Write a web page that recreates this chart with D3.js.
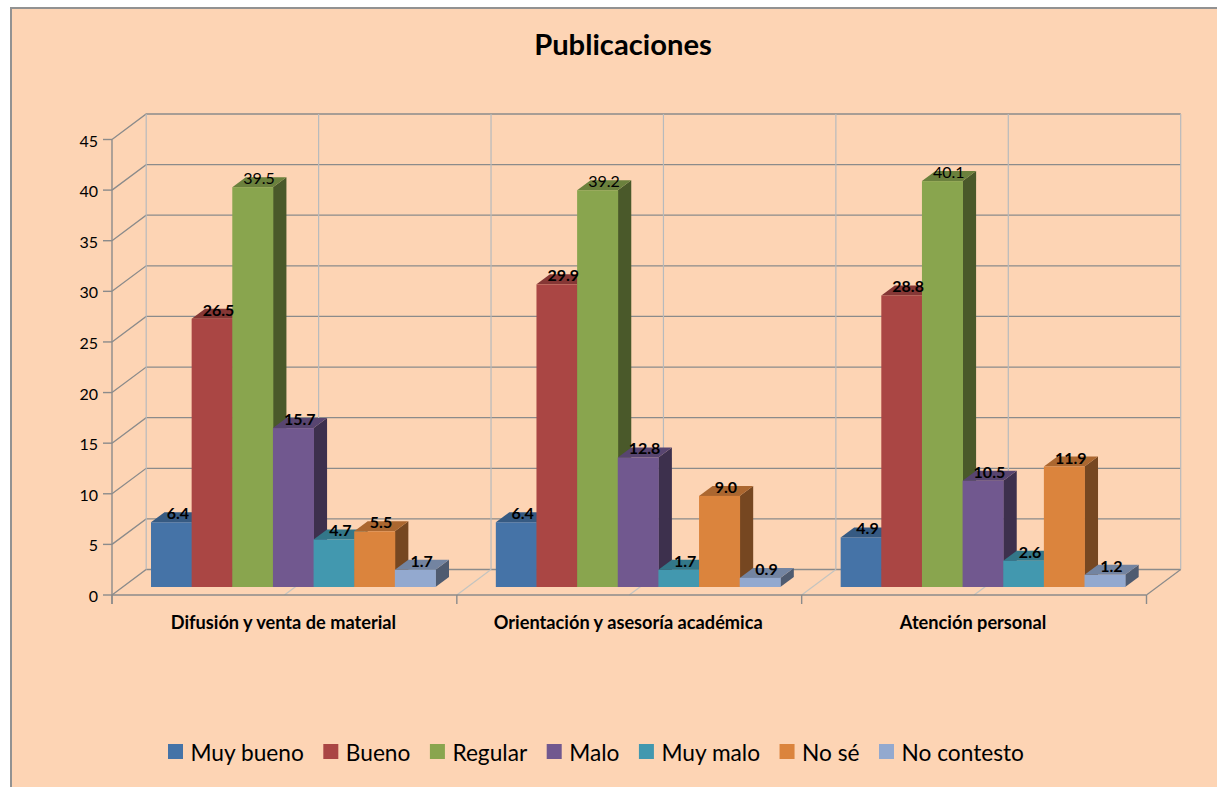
<!DOCTYPE html>
<html><head><meta charset="utf-8">
<script src="https://cdn.jsdelivr.net/npm/d3@7"></script>
<style>html,body{margin:0;padding:0;background:#fff}svg{display:block}text{font-family:Lato,"Noto Sans",sans-serif;fill:#000}</style>
</head><body><div id="chart"></div>
<script>
const title = "Publicaciones";
const categories = ["Difusión y venta de material","Orientación y asesoría académica","Atención personal"];
const series = ["Muy bueno","Bueno","Regular","Malo","Muy malo","No sé","No contesto"];
const muyBueno = [6.4,6.4,4.9];
const bueno = [26.5,29.9,28.8];
const regular = [39.5,39.2,40.1];
const malo = [15.7,12.8,10.5];
const muyMalo = [4.7,1.7,2.6];
const noSe = [5.5,9.0,11.9];
const noContesto = [1.7,0.9,1.2];
const seriesValues = [muyBueno,bueno,regular,malo,muyMalo,noSe,noContesto];
const colors = ["#4573A7","#AA4644","#89A54E","#71588F","#4298AF","#DB843D","#93A9CF"];
const yTicks = [0,5,10,15,20,25,30,35,40,45];

const W=1217,H=787;
const depth={x:34.2,y:-25.5}, barDepth={x:13.5,y:-10}, barLift=8, barsInset=39, barsWidth=284.5;
const svg=d3.select("#chart").append("svg").attr("width",W).attr("height",H);
svg.append("rect").attr("x",11).attr("y",8).attr("width",W+10).attr("height",H+10)
  .attr("fill","#FDD4B4").attr("stroke","#929292").attr("stroke-width",2);

const x0=d3.scaleBand().domain(categories).range([112,1146.5]);
const x1=d3.scaleBand().domain(series).range([0,barsWidth]);
const y=d3.scaleLinear().domain([0,45]).range([595,139.5]);
const half=d3.range(0,categories.length*2+1).map(i=>112+i*x0.bandwidth()/2);

const grid=svg.append("g").attr("fill","none");
yTicks.forEach(t=>{
  grid.append("path").attr("d",`M${x0.range()[0]},${y(t)}l${depth.x},${depth.y}H${x0.range()[1]+depth.x}`)
    .attr("stroke","#8b8b8b").attr("stroke-width",1.3);
});
half.forEach((px,i)=>{
  grid.append("line").attr("x1",px+depth.x).attr("x2",px+depth.x)
    .attr("y1",y(45)+depth.y).attr("y2",y(0)+depth.y)
    .attr("stroke","#b7babd").attr("stroke-width",1.2);
  if(i>0) grid.append("line").attr("x1",px).attr("y1",y(0)).attr("x2",px+depth.x).attr("y2",y(0)+depth.y)
    .attr("stroke",i===half.length-1?"#8b8b8b":"#c4c4c0").attr("stroke-width",1.2);
});
const axis=svg.append("g").attr("fill","none").attr("stroke","#8b8b8b").attr("stroke-width",1.4);
axis.append("line").attr("x1",112).attr("x2",112).attr("y1",y(45)).attr("y2",604);
axis.append("line").attr("x1",112).attr("x2",x0.range()[1]).attr("y1",y(0)).attr("y2",y(0));
yTicks.forEach(t=>axis.append("line").attr("x1",103).attr("x2",112).attr("y1",y(t)).attr("y2",y(t)));
half.filter((d,i)=>i%2===0).forEach(px=>axis.append("line").attr("x1",px).attr("x2",px).attr("y1",y(0)).attr("y2",604));
svg.append("g").selectAll("text").data(yTicks).join("text")
  .attr("x",98).attr("y",d=>y(d)+7).attr("text-anchor","end").attr("font-size",16).text(d=>d);

const shade=(c,k)=>{const r=d3.rgb(c);return d3.rgb(r.r*k,r.g*k,r.b*k).formatHex();};
const bars=svg.append("g"), labels=svg.append("g");
categories.forEach((cat,ci)=>{
  series.forEach((s,si)=>{
    const v=seriesValues[si][ci];
    const xl=x0(cat)+barsInset+x1(s), w=x1.bandwidth();
    const yt=y(v)-barLift, yb=y(0)-barLift;
    const dx=barDepth.x, dy=barDepth.y, c=colors[si];
    bars.append("path").attr("fill",shade(c,0.54))
      .attr("d",`M${xl+w},${yt}l${dx},${dy}V${yb+dy}l${-dx},${-dy}Z`);
    bars.append("path").attr("fill",shade(c,0.78))
      .attr("d",`M${xl},${yt}l${dx},${dy}h${w}l${-dx},${-dy}Z`);
    bars.append("rect").attr("x",xl).attr("y",yt).attr("width",w+0.4).attr("height",yb-yt).attr("fill",c);
    labels.append("text").attr("x",xl+w/2+6.5).attr("y",yt-3).attr("text-anchor","middle")
      .attr("font-size",16).attr("font-weight",s==="Regular"?400:700).text(v.toFixed(1));
  });
});

svg.append("g").selectAll("text").data(categories).join("text")
  .attr("x",d=>x0(d)+x0.bandwidth()/2-1).attr("y",629)
  .attr("text-anchor","middle").attr("font-size",18.2).attr("font-weight",700).text(d=>d);

svg.append("text").attr("x",623).attr("y",55).attr("text-anchor","middle")
  .attr("font-size",29.2).attr("font-weight",700).text(title);

let lx=168;
series.forEach((s,i)=>{
  svg.append("rect").attr("x",lx).attr("y",744).attr("width",15).attr("height",15).attr("fill",colors[i]);
  const t=svg.append("text").attr("x",lx+22.5).attr("y",760.5).attr("font-size",22.7).text(s);
  lx+=22.5+t.node().getComputedTextLength()+19.5;
});
</script></body></html>
